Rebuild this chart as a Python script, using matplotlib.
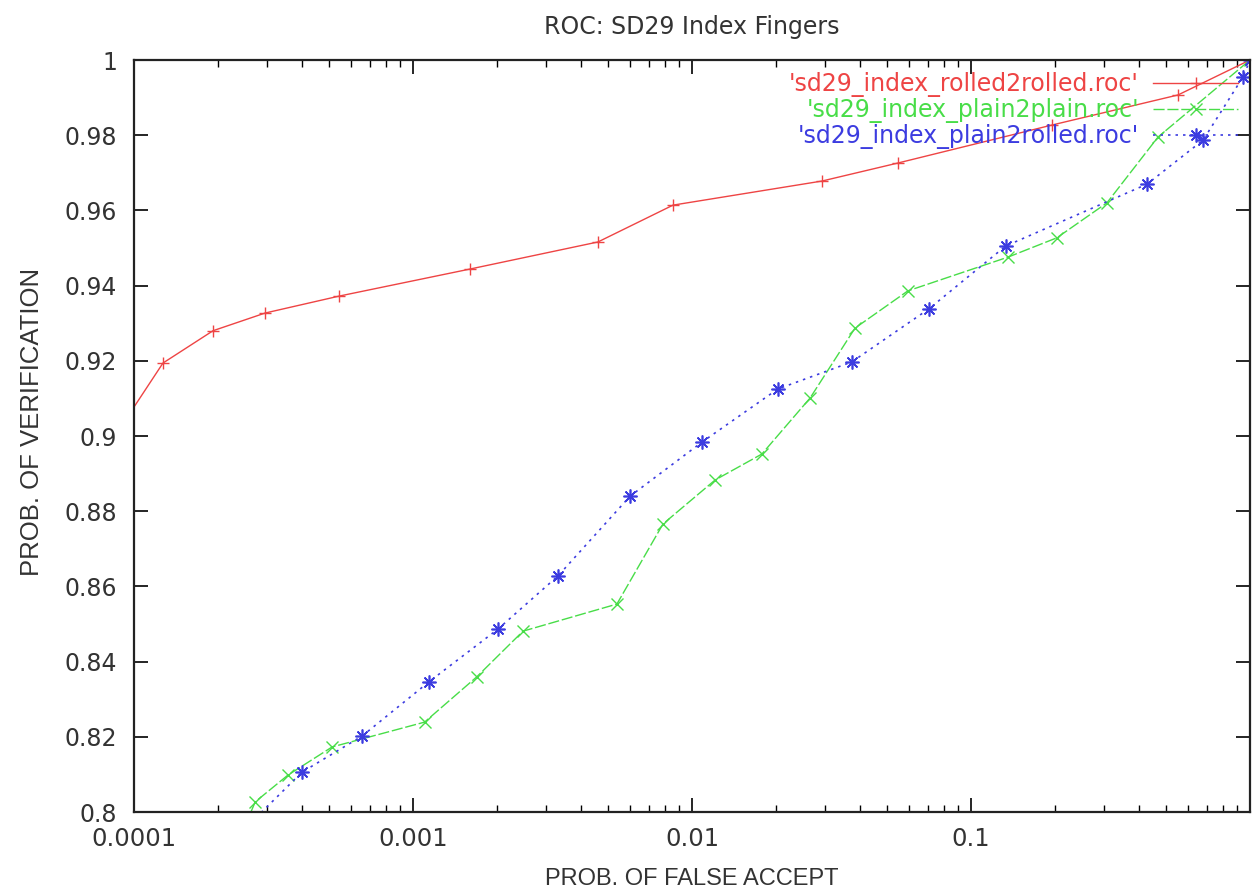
import numpy as np
import matplotlib
matplotlib.use('Agg')
import matplotlib.pyplot as plt
from matplotlib.ticker import LogLocator, NullFormatter, FixedLocator

# data (false accept rate, verification rate)
far_rolled = [8e-5, 1.27e-4, 1.92e-4, 2.95e-4, 5.43e-4, 1.6e-3, 4.6e-3, 8.55e-3,
              0.0292, 0.0547, 0.195, 0.552, 1.0]
pv_rolled = [0.8968, 0.9194, 0.928, 0.9327, 0.9372, 0.9444, 0.9516, 0.9614,
             0.9678, 0.9726, 0.9827, 0.9907, 1.0]

far_plain = [2.3e-4, 2.72e-4, 3.56e-4, 5.13e-4, 1.10e-3, 1.69e-3, 2.48e-3, 5.38e-3,
             7.87e-3, 0.0121, 0.0178, 0.0265, 0.0384, 0.0594, 0.136, 0.203,
             0.307, 0.468, 1.0]
pv_plain = [0.79, 0.8027, 0.8098, 0.8173, 0.8239, 0.8359, 0.8481, 0.8553,
            0.8766, 0.8883, 0.8952, 0.9101, 0.9287, 0.9386, 0.9476, 0.9527,
            0.962, 0.9795, 1.0]

far_p2r = [2.1e-4, 4.0e-4, 6.57e-4, 1.14e-3, 2.02e-3, 3.31e-3, 6.0e-3, 0.01087,
           0.0203, 0.0374, 0.0706, 0.133, 0.428, 0.679, 0.944, 1.0]
pv_p2r = [0.79, 0.8106, 0.8202, 0.8346, 0.8487, 0.8628, 0.884, 0.8984,
          0.9125, 0.9197, 0.9338, 0.9505, 0.967, 0.9787, 0.9955, 1.0]

labels = ["'sd29_index_rolled2rolled.roc'",
          "'sd29_index_plain2plain.roc'",
          "'sd29_index_plain2rolled.roc'"]
yticks = [0.8, 0.82, 0.84, 0.86, 0.88, 0.9, 0.92, 0.94, 0.96, 0.98, 1.0]
ytick_labels = ['0.8', '0.82', '0.84', '0.86', '0.88', '0.9', '0.92', '0.94',
                '0.96', '0.98', '1']
xticks = [1e-4, 1e-3, 1e-2, 1e-1]
xtick_labels = ['0.0001', '0.001', '0.01', '0.1']

fig = plt.figure(figsize=(12.52, 8.90), dpi=100)
ax = fig.add_axes([134/1252, 1 - 812/890, 1116/1252, 752/890])

ax.plot(far_rolled, pv_rolled, color='#ee4444', lw=1.0, marker='+', ms=9,
        mew=1.0, label=labels[0])
ax.plot(far_plain, pv_plain, color='#48dd48', lw=1.0, ls=(0, (8, 2)),
        marker='x', ms=8, mew=1.0, label=labels[1])
ax.plot(far_p2r, pv_p2r, color='#3c3ce0', lw=1.2, ls=(0, (1.5, 3)),
        marker=(8, 2, 0), ms=10, mew=1.2, label=labels[2])

ax.set_xscale('log')
ax.set_xlim(1e-4, 1)
ax.set_ylim(0.8, 1.0)

ax.xaxis.set_major_locator(FixedLocator(xticks))
ax.set_xticklabels(xtick_labels, fontfamily='DejaVu Sans', fontsize=17.5,
                   color='#333333')
ax.xaxis.set_minor_locator(LogLocator(base=10, subs=np.arange(2, 10)))
ax.xaxis.set_minor_formatter(NullFormatter())
ax.set_yticks(yticks)
ax.set_yticklabels(ytick_labels, fontfamily='DejaVu Sans', fontsize=17,
                   color='#333333')

ax.tick_params(which='major', direction='in', length=10, width=1.2,
               top=True, right=True)
ax.tick_params(which='minor', direction='in', length=5, width=1.0,
               top=True, right=True)
ax.tick_params(axis='x', which='major', pad=11)
ax.tick_params(axis='y', which='major', pad=12)

for s in ax.spines.values():
    s.set_linewidth(1.6)
    s.set_color('#222222')

ax.set_xlabel('PROB. OF FALSE ACCEPT', fontfamily='Liberation Sans',
              fontsize=17, color='#333333', labelpad=12)
ax.set_ylabel('PROB. OF VERIFICATION', fontfamily='Liberation Sans',
              fontsize=18.5, color='#333333')
ax.yaxis.set_label_coords(-0.081, 0.519)
ax.set_title('ROC: SD29 Index Fingers', fontfamily='DejaVu Sans',
             fontsize=17, color='#333333', pad=19)

leg = ax.legend(loc='upper right', frameon=False, markerfirst=False,
                prop={'family': 'DejaVu Sans', 'size': 17},
                labelcolor='linecolor', handlelength=3.6, handletextpad=0.6,
                labelspacing=0.05, borderaxespad=0.3, borderpad=0.2)

fig.savefig('out.png', dpi=100)
